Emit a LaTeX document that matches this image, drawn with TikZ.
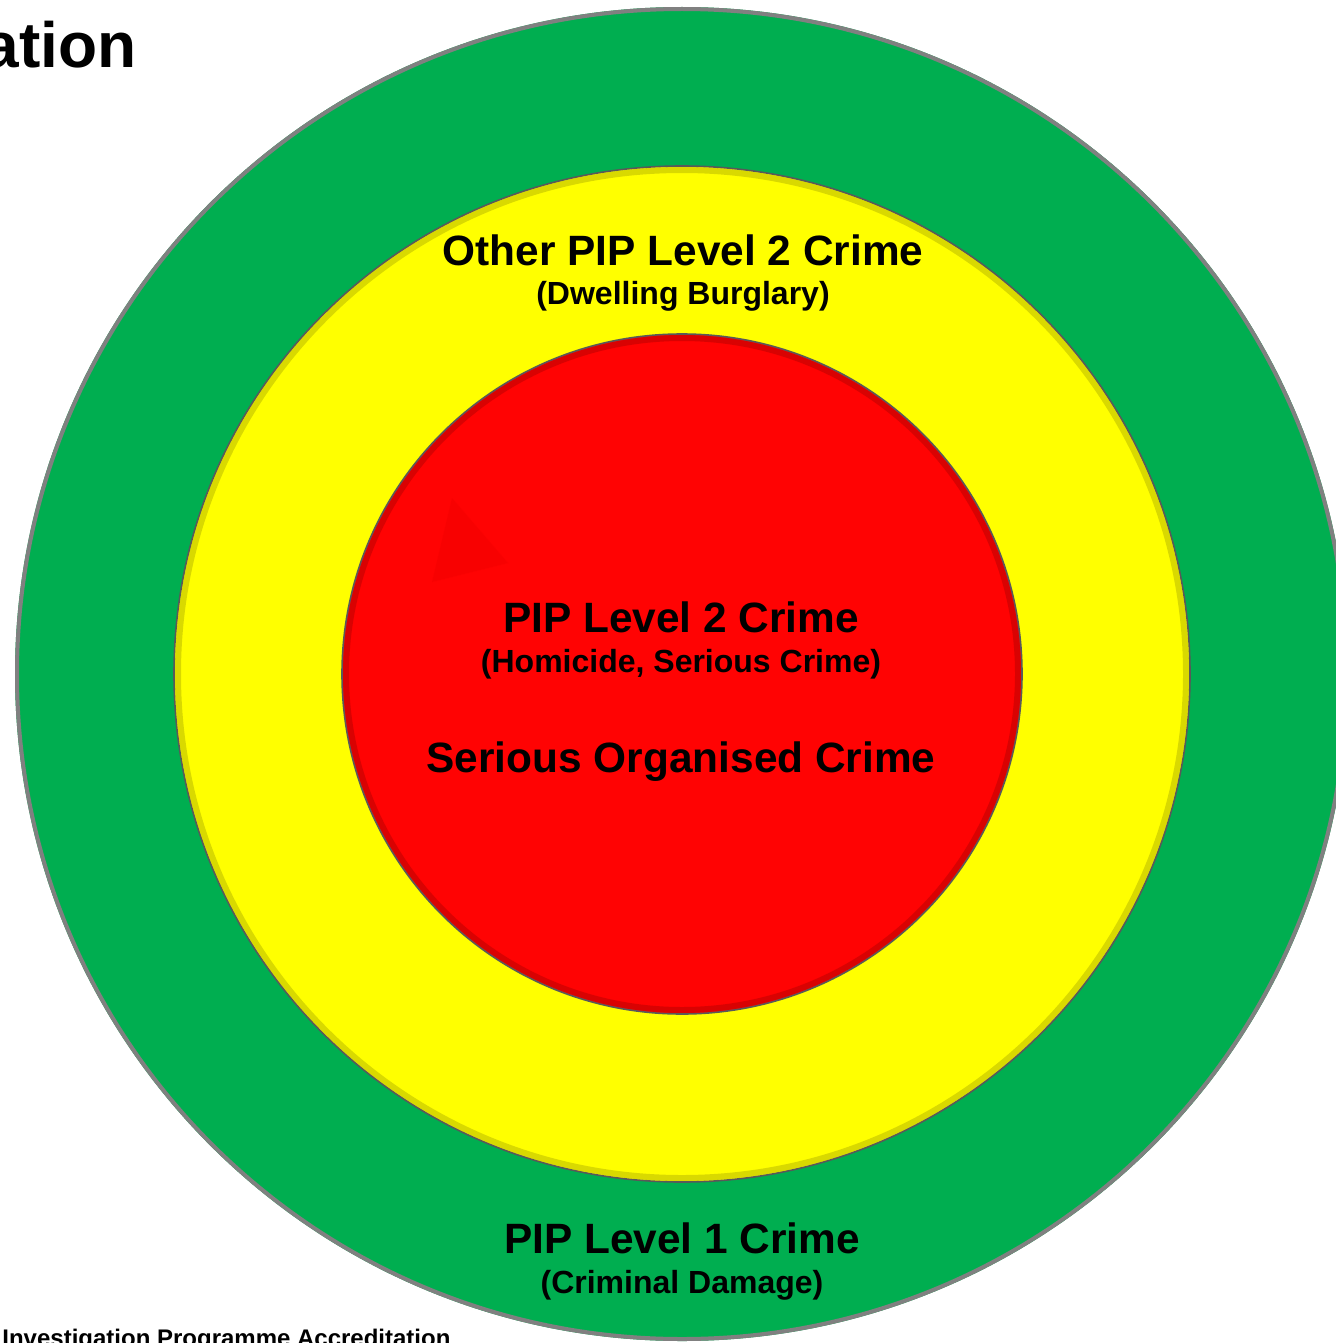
\documentclass[tikz,border=0pt]{standalone}
\usepackage{fontspec}
\setmainfont{Liberation Sans}
\usepackage{tikz}

\definecolor{ringgreen}{RGB}{0,174,80}
\definecolor{ringyellow}{RGB}{255,255,0}
\definecolor{ringred}{RGB}{255,3,3}

\begin{document}
\begin{tikzpicture}[x=0.5pt,y=-0.5pt,
        head/.style={anchor=base,inner sep=0pt,font=\bfseries\fontsize{21.2pt}{25pt}\selectfont},
        sub/.style={anchor=base,inner sep=0pt,font=\bfseries\fontsize{16pt}{19pt}\selectfont},
        bevel/.style={black,opacity=0.15,line width=3pt}]
        \useasboundingbox (0,0) rectangle (1336,1343);
        \clip (0,0) rectangle (1336,1343);
        \coordinate (O) at (682,674);
        % rings
        \fill[ringgreen] (O) circle[radius=333.5pt];
        \draw[gray,line width=2pt] (O) circle[radius=332.5pt];
        \fill[ringyellow] (O) circle[radius=254pt];
        \draw[bevel] (O) circle[radius=252pt];
        \draw[black!65,line width=0.8pt] (O) circle[radius=254pt];
        \fill[ringred] (O) circle[radius=170pt];
        \draw[bevel] (O) circle[radius=168pt];
        \draw[black!65,line width=0.8pt] (O) circle[radius=170pt];
        \fill[red!93!black,opacity=0.35] (452,498) -- (508,563) -- (432,582) -- cycle;
        % labels
        \node[head] (other) at (683,265) {Other PIP Level 2 Crime};
        \node[sub] (burglary) at (683,304) {(Dwelling Burglary)};
        \node[head] (level2) at (681,632) {PIP Level 2 Crime};
        \node[sub] (homicide) at (681,672) {(Homicide, Serious Crime)};
        \node[head] (organised) at (681,772) {Serious Organised Crime};
        \node[head] (level1) at (682,1253) {PIP Level 1 Crime};
        \node[sub] (damage) at (682,1293) {(Criminal Damage)};
        % cut titles
        \node[anchor=base east,inner sep=0pt,font=\bfseries\fontsize{32pt}{38pt}\selectfont] (title) at (137,68) {ation};
        \node[anchor=base west,inner sep=0pt,font=\bfseries\fontsize{12pt}{14pt}\selectfont] (footer) at (2,1346) {Investigation Programme Accreditation};
\end{tikzpicture}
\end{document}
